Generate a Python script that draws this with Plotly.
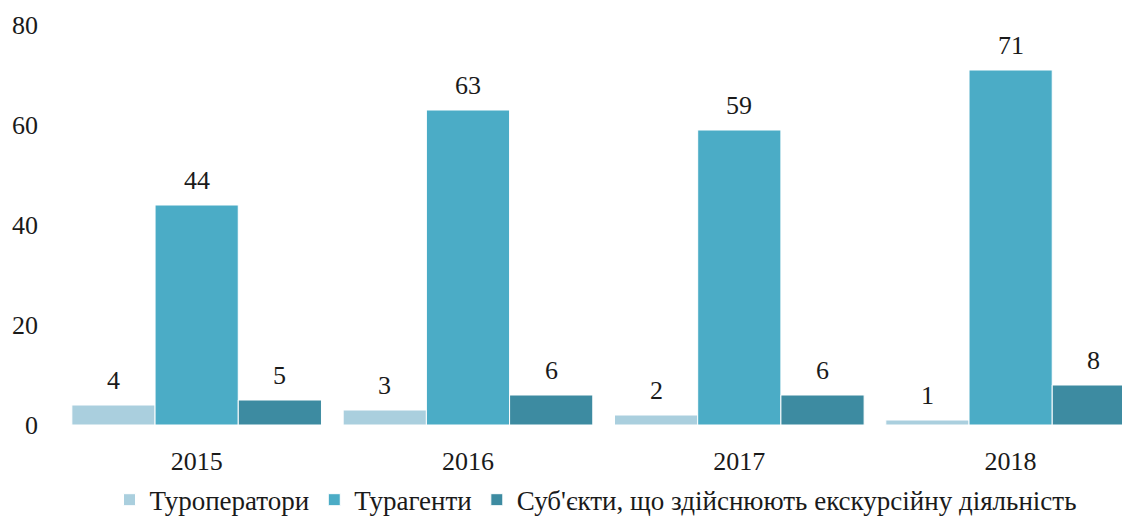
import plotly.graph_objects as go

years = ["2015", "2016", "2017", "2018"]
tour_operators = [4, 3, 2, 1]
travel_agents = [44, 63, 59, 71]
excursion_subjects = [5, 6, 6, 8]

names = ["Туроператори", "Турагенти", "Суб'єкти, що здійснюють екскурсійну діяльність"]
colors = ["#AACFDE", "#4BACC6", "#3D8BA1"]
series = [tour_operators, travel_agents, excursion_subjects]

FAMILY = "Liberation Serif, Times New Roman, serif"
TXT = "#1a1a1a"

fig = go.Figure()
for name, vals, col in zip(names, series, colors):
    fig.add_trace(go.Bar(x=years, y=vals, name=name, marker_color=col,
                         marker_line=dict(color="white", width=1)))

# value labels above bars (category index + bar offset inside the group)
bargap = 0.08
bar_w = (1 - bargap) / len(series)
offsets = [(k - 1) * bar_w for k in range(len(series))]
annotations = []
for vals, off in zip(series, offsets):
    for i, v in enumerate(vals):
        annotations.append(dict(x=i + off, y=v, xref="x", yref="y", text=str(v),
                                showarrow=False, yshift=25, yanchor="middle",
                                font=dict(family=FAMILY, size=26, color=TXT)))

fig.update_layout(
    width=1122, height=510,
    margin=dict(l=53, r=0, t=17, b=93),
    plot_bgcolor="white", paper_bgcolor="white",
    font=dict(family=FAMILY, size=26, color=TXT),
    barmode="group", bargap=bargap, bargroupgap=0,
    showlegend=True,
    annotations=annotations,
    legend=dict(orientation="h", x=0.5, xanchor="center", yref="container",
                y=0.035, yanchor="middle",
                font=dict(family=FAMILY, size=27, color=TXT), itemwidth=30),
)
fig.update_xaxes(type="category", range=[-0.5, 3.44], showline=False, showgrid=False,
                 ticks="", ticklabelstandoff=18)
fig.update_yaxes(range=[0, 80], dtick=20, showgrid=False, zeroline=False,
                 showline=False, ticks="", ticklabelstandoff=22)

fig.write_html("out.html")
